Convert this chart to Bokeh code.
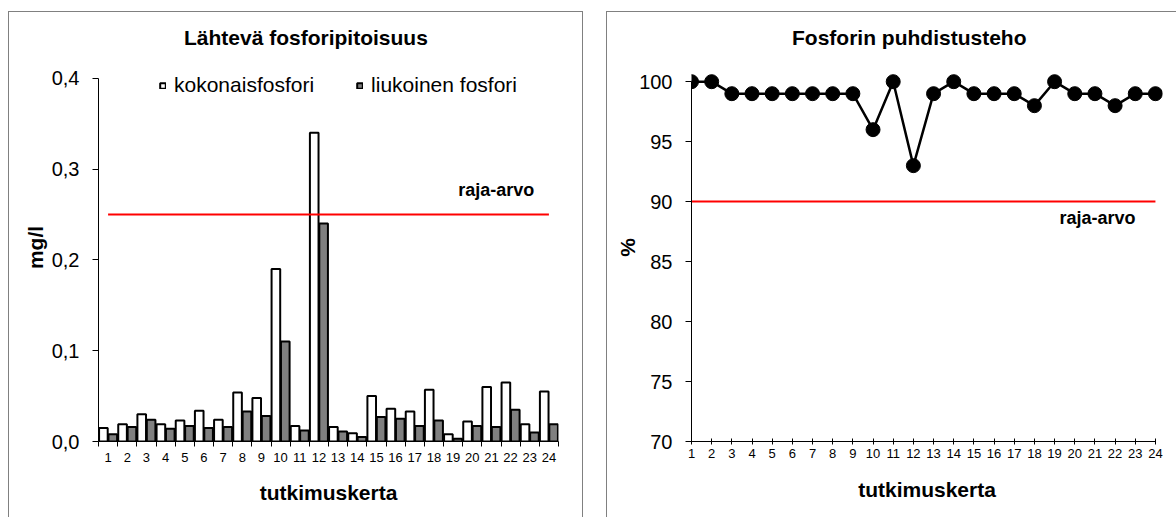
from bokeh.plotting import figure
from bokeh.models import (FixedTicker, Label, Legend, LegendItem, ColumnDataSource)
from bokeh.layouts import row
from bokeh.transform import dodge
from bokeh.embed import file_html
from bokeh.resources import INLINE

# ---------------- data ----------------
categories = ["1", "2", "3", "4", "5", "6", "7", "8", "9", "10", "11", "12",
              "13", "14", "15", "16", "17", "18", "19", "20", "21", "22", "23", "24"]
kokonaisfosfori = [0.015, 0.019, 0.030, 0.019, 0.023, 0.034, 0.024, 0.054, 0.048, 0.190, 0.017, 0.340,
                   0.016, 0.009, 0.050, 0.036, 0.033, 0.057, 0.008, 0.022, 0.060, 0.065, 0.019, 0.055]
liukoinen_fosfori = [0.008, 0.016, 0.024, 0.014, 0.017, 0.015, 0.016, 0.033, 0.028, 0.110, 0.012, 0.240,
                     0.011, 0.005, 0.027, 0.025, 0.017, 0.023, 0.003, 0.017, 0.016, 0.035, 0.010, 0.019]
raja_arvo_p = 0.25
puhdistusteho = [100, 100, 99, 99, 99, 99, 99, 99, 99, 96, 100, 93,
                 99, 100, 99, 99, 99, 98, 100, 99, 99, 98, 99, 99]
raja_arvo_teho = 90
y1_ticks = [0.0, 0.1, 0.2, 0.3, 0.4]
y1_tick_labels = ["0,0", "0,1", "0,2", "0,3", "0,4"]
y2_ticks = [70, 75, 80, 85, 90, 95, 100]

title1 = "Lähtevä fosforipitoisuus"
title2 = "Fosforin puhdistusteho"
xlabel = "tutkimuskerta"
ylabel1 = "mg/l"
ylabel2 = "%"
legend_labels = ["kokonaisfosfori", "liukoinen fosfori"]
limit_label = "raja-arvo"

FONT = "Liberation Sans"
pos = list(range(1, len(categories) + 1))
boundaries = [p - 0.5 for p in pos] + [pos[-1] + 0.5]


def style_axes(p, title, title_offset):
    p.xgrid.visible = False
    p.ygrid.visible = False
    p.outline_line_color = None
    p.border_fill_color = None
    p.background_fill_color = None
    p.title.text = title
    p.title.align = "left"
    p.title.offset = title_offset
    p.title.text_font = FONT
    p.title.text_font_size = "21px"
    p.title.text_font_style = "bold"
    p.title.text_color = "black"
    for ax in (p.xaxis[0], p.yaxis[0]):
        ax.axis_line_color = "black"
        ax.major_tick_line_color = "black"
        ax.minor_tick_line_color = "black"
        ax.major_label_text_color = "black"
        ax.major_label_text_font = FONT
        ax.axis_label_text_font = FONT
        ax.axis_label_text_color = "black"
        ax.axis_label_text_font_style = "bold"
        ax.axis_label_text_font_size = "21px"


def add_text(p, x, y, text, size):
    p.add_layout(Label(x=x, y=y, x_units="canvas", y_units="canvas", text=text,
                       text_align="center", text_baseline="middle", text_font=FONT,
                       text_font_size=size, text_font_style="bold", text_color="black"))


# ---------------- left chart ----------------
p1 = figure(width=594, height=517, x_range=(0.5, 24.5), y_range=(0, 0.4273),
            output_backend="svg", toolbar_location=None,
            min_border_left=98, min_border_right=36, min_border_top=53, min_border_bottom=76)
style_axes(p1, title1, 85.5)

src1 = ColumnDataSource(dict(x=pos, cat=categories, koko=kokonaisfosfori, liuk=liukoinen_fosfori,
                             raja=[raja_arvo_p] * len(pos)))
r_koko = p1.vbar(x=dodge("x", -0.245), top="koko", width=0.45, source=src1,
                 fill_color="white", line_color="black", line_width=2)
r_liuk = p1.vbar(x=dodge("x", 0.245), top="liuk", width=0.45, source=src1,
                 fill_color="#808080", line_color="black", line_width=2)
p1.line(x="x", y="raja", source=src1, line_color="#FF0000", line_width=2)

xa = p1.xaxis[0]
xa.ticker = FixedTicker(ticks=pos, minor_ticks=boundaries)
xa.major_label_overrides = {p: c for p, c in zip(pos, categories)}
xa.major_tick_in = 0
xa.major_tick_out = 0
xa.minor_tick_in = 0
xa.minor_tick_out = 5
xa.major_label_standoff = 6
xa.major_label_text_font_size = "13px"
xa.axis_label = xlabel
xa.axis_label_standoff = 16

ya = p1.yaxis[0]
ya.ticker = FixedTicker(ticks=y1_ticks)
ya.bounds = (y1_ticks[0], y1_ticks[-1])
ya.major_label_overrides = dict(zip(y1_ticks, y1_tick_labels))
ya.major_tick_in = 0
ya.major_tick_out = 6
ya.minor_tick_out = 0
ya.major_label_standoff = 13
ya.major_label_text_font_size = "20px"
ya.axis_label = ylabel1
ya.axis_label_standoff = 2

legend = Legend(items=[LegendItem(label=legend_labels[0], renderers=[r_koko]),
                       LegendItem(label=legend_labels[1], renderers=[r_liuk])],
                orientation="horizontal", location=(61, 344),
                padding=0, margin=0, spacing=42, glyph_width=7, glyph_height=7,
                label_standoff=8, label_text_font=FONT, label_text_font_size="21px",
                label_text_color="black", border_line_alpha=0, background_fill_alpha=0)
p1.add_layout(legend)

add_text(p1, 495.7, 189.3, limit_label, "18px")

# ---------------- right chart ----------------
p2 = figure(width=582, height=517, x_range=(1, 24.35), y_range=(70, 102.35),
            output_backend="svg", toolbar_location=None,
            min_border_left=97, min_border_right=14, min_border_top=51, min_border_bottom=74)
style_axes(p2, title2, 100.5)

src2 = ColumnDataSource(dict(x=pos, teho=puhdistusteho, raja=[raja_arvo_teho] * len(pos)))
p2.line(x="x", y="raja", source=src2, line_color="#FF0000", line_width=2)
p2.line(x="x", y="teho", source=src2, line_color="black", line_width=2.5)
p2.scatter(x="x", y="teho", source=src2, size=14, fill_color="black", line_color="black")

xb = p2.xaxis[0]
xb.bounds = (pos[0], pos[-1])
xb.ticker = FixedTicker(ticks=pos)
xb.major_label_overrides = {p: c for p, c in zip(pos, categories)}
xb.major_tick_in = 3
xb.major_tick_out = 3
xb.minor_tick_out = 0
xb.major_label_standoff = 4
xb.major_label_text_font_size = "13px"
xb.axis_label = xlabel
xb.axis_label_standoff = 17

yb = p2.yaxis[0]
yb.bounds = (y2_ticks[0], y2_ticks[-1])
yb.ticker = FixedTicker(ticks=y2_ticks)
yb.major_tick_in = 0
yb.major_tick_out = 6
yb.minor_tick_out = 0
yb.major_label_standoff = 13
yb.major_label_text_font_size = "20px"
yb.axis_label = ylabel2
yb.axis_label_standoff = -3

add_text(p2, 503, 217.3, limit_label, "18px")

# panel frames (thin grey boxes behind the two charts)
G = "linear-gradient(#808080, #808080)"
frames = ", ".join([
    f"{G} 8px 11px / 1px 506px no-repeat",
    f"{G} 8px 11px / 575px 1px no-repeat",
    f"{G} 582px 11px / 1px 506px no-repeat",
    f"{G} 606px 11px / 1px 506px no-repeat",
    f"{G} 606px 11px / 570px 1px no-repeat",
])
layout = row(p1, p2, spacing=0, styles={"background": frames})
open("out.html", "w").write(file_html(layout, INLINE))
